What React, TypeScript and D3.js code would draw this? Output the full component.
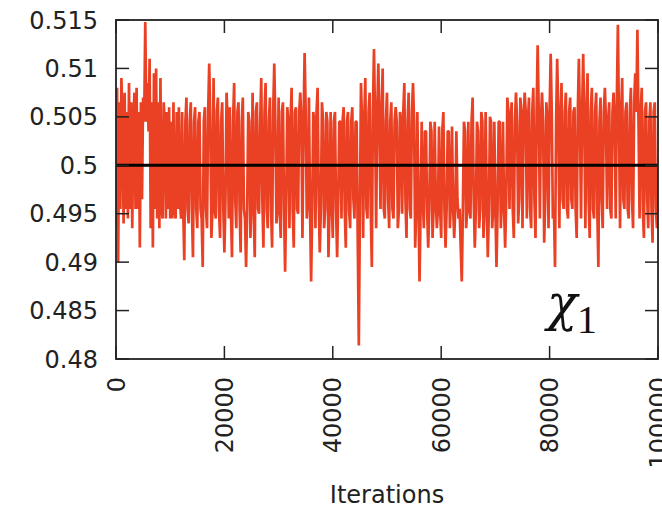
import React from "react";
import * as d3 from "d3";

// ---- data ----
const yTicks = [0.48, 0.485, 0.49, 0.495, 0.5, 0.505, 0.51, 0.515];
const yTickLabels = ["0.48", "0.485", "0.49", "0.495", "0.5", "0.505", "0.51", "0.515"];
const xTicks = [0, 20000, 40000, 60000, 80000, 100000];
const xTickLabels = ["0", "20000", "40000", "60000", "80000", "100000"];
const xLabel = "Iterations";
const trueValue = 0.5;
const iterStep = 200;

// sampled chain for chi_1 (one value every 200 iterations)
const chi1Trace = [
  0.4935, 0.508, 0.490, 0.5065, 0.4955, 0.509, 0.5045, 0.494, 0.5075, 0.4955, 0.5055, 0.4945, 0.5085, 0.4955, 0.5065, 0.4935, 0.5045, 0.5075, 0.4955, 0.508,
  0.4955, 0.5055, 0.4915, 0.5065, 0.4965, 0.507, 0.5045, 0.5148, 0.5045, 0.5085, 0.5035, 0.511, 0.4935, 0.5065, 0.4915, 0.5095, 0.4955, 0.510, 0.4945, 0.5065,
  0.4935, 0.509, 0.4955, 0.4945, 0.5065, 0.5045, 0.4945, 0.5055, 0.4955, 0.506, 0.4945, 0.5045, 0.4945, 0.5065, 0.4955, 0.4945, 0.5055, 0.4955, 0.506, 0.4965,
  0.4945, 0.5055, 0.4955, 0.4902, 0.5045, 0.507, 0.4955, 0.494, 0.5045, 0.5065, 0.4955, 0.4905, 0.5045, 0.506, 0.4955, 0.4935, 0.5045, 0.5055, 0.4955, 0.4945,
  0.4895, 0.5045, 0.506, 0.4955, 0.4935, 0.5055, 0.5105, 0.5045, 0.4925, 0.4955, 0.509, 0.4955, 0.4945, 0.5055, 0.507, 0.4955, 0.4925, 0.5045, 0.5065, 0.4955,
  0.491, 0.4965, 0.5075, 0.5045, 0.4945, 0.506, 0.4955, 0.4905, 0.5045, 0.5085, 0.4965, 0.4935, 0.5055, 0.5065, 0.4955, 0.491, 0.5045, 0.507, 0.4955, 0.4945,
  0.4895, 0.4955, 0.5055, 0.5045, 0.4925, 0.4965, 0.5075, 0.4955, 0.4905, 0.5055, 0.5065, 0.4955, 0.495, 0.5045, 0.509, 0.4965, 0.4915, 0.5055, 0.5085, 0.4955,
  0.4935, 0.5045, 0.507, 0.4955, 0.4915, 0.5055, 0.5105, 0.5045, 0.494, 0.4955, 0.507, 0.4955, 0.4925, 0.5055, 0.5065, 0.4955, 0.489, 0.4965, 0.506, 0.5045,
  0.4935, 0.5045, 0.508, 0.4955, 0.4915, 0.5055, 0.506, 0.4955, 0.495, 0.5055, 0.5075, 0.5045, 0.4925, 0.5045, 0.5116, 0.5055, 0.4945, 0.4965, 0.507, 0.4955,
  0.488, 0.4955, 0.5055, 0.5045, 0.4935, 0.5055, 0.508, 0.4965, 0.491, 0.4955, 0.5065, 0.5045, 0.4935, 0.4955, 0.5055, 0.5045, 0.4905, 0.4955, 0.5055, 0.4965,
  0.4925, 0.5045, 0.5055, 0.4955, 0.4905, 0.4965, 0.5045, 0.5045, 0.4945, 0.5045, 0.506, 0.4955, 0.4915, 0.5045, 0.5055, 0.4955, 0.4935, 0.5045, 0.506, 0.4965,
  0.4945, 0.5045, 0.5045, 0.4925, 0.4814, 0.4955, 0.5085, 0.5045, 0.4925, 0.5045, 0.509, 0.4955, 0.4945, 0.5055, 0.5075, 0.4955, 0.4895, 0.5055, 0.512, 0.5045,
  0.4935, 0.5055, 0.5105, 0.5045, 0.4955, 0.5055, 0.510, 0.4955, 0.4945, 0.5045, 0.5075, 0.4965, 0.4935, 0.5045, 0.5065, 0.4955, 0.4945, 0.5045, 0.506, 0.5045,
  0.4935, 0.4955, 0.5055, 0.5045, 0.495, 0.5055, 0.5085, 0.4965, 0.4925, 0.5045, 0.5075, 0.4955, 0.4945, 0.5055, 0.5085, 0.5045, 0.4915, 0.4955, 0.5055, 0.4965,
  0.488, 0.4955, 0.5045, 0.4965, 0.4935, 0.5035, 0.5035, 0.4955, 0.4915, 0.4955, 0.5045, 0.5035, 0.4925, 0.4955, 0.5045, 0.4965, 0.4935, 0.4955, 0.504, 0.4955,
  0.4925, 0.5035, 0.5055, 0.4955, 0.4915, 0.4955, 0.5035, 0.5035, 0.4935, 0.4965, 0.504, 0.4955, 0.4925, 0.4955, 0.5035, 0.4965, 0.4945, 0.4955, 0.4915, 0.488,
  0.4955, 0.5045, 0.5035, 0.4935, 0.4955, 0.5045, 0.4955, 0.4945, 0.5045, 0.507, 0.4965, 0.4915, 0.4955, 0.5045, 0.5035, 0.4935, 0.4955, 0.5055, 0.5045, 0.4925,
  0.4955, 0.5055, 0.4965, 0.4905, 0.4955, 0.505, 0.5045, 0.4935, 0.4955, 0.5045, 0.4955, 0.4895, 0.4955, 0.5045, 0.5045, 0.4935, 0.4965, 0.5045, 0.4955, 0.4915,
  0.4965, 0.507, 0.5055, 0.4955, 0.5045, 0.5065, 0.4955, 0.4925, 0.5045, 0.5075, 0.5045, 0.494, 0.4965, 0.507, 0.5055, 0.4935, 0.5045, 0.5075, 0.5055, 0.4945,
  0.5045, 0.507, 0.4955, 0.4935, 0.5055, 0.508, 0.4965, 0.4925, 0.5055, 0.5124, 0.5055, 0.4945, 0.5045, 0.5075, 0.5045, 0.492, 0.4965, 0.5065, 0.5045, 0.4935,
  0.5055, 0.5115, 0.5055, 0.4945, 0.4955, 0.4895, 0.5045, 0.511, 0.5055, 0.4935, 0.5045, 0.5085, 0.4965, 0.4955, 0.5055, 0.5075, 0.4955, 0.4945, 0.5055, 0.507,
  0.4965, 0.4955, 0.5055, 0.506, 0.4955, 0.4925, 0.5055, 0.511, 0.5045, 0.4945, 0.5055, 0.5115, 0.5045, 0.4935, 0.5055, 0.5095, 0.4965, 0.4925, 0.5055, 0.508,
  0.4955, 0.4945, 0.5055, 0.5075, 0.4955, 0.4895, 0.5045, 0.507, 0.4965, 0.4935, 0.5055, 0.508, 0.5045, 0.4955, 0.5045, 0.5065, 0.4955, 0.4945, 0.5055, 0.5075,
  0.5045, 0.4945, 0.5065, 0.5145, 0.5045, 0.4935, 0.5055, 0.509, 0.4965, 0.4955, 0.5055, 0.5065, 0.4955, 0.4945, 0.5055, 0.508, 0.4965, 0.4935, 0.5065, 0.5095,
  0.5055, 0.514, 0.5045, 0.4945, 0.5055, 0.508, 0.4955, 0.4925, 0.5055, 0.5065, 0.4965, 0.4935, 0.5045, 0.5065, 0.4955, 0.492, 0.5055, 0.5065, 0.4955, 0.4935,
  0.500,
];

const W = 662;
const H = 511;
const margin = { left: 116, right: 4, top: 20, bottom: 152 };

export default function App() {
  const x = d3
    .scaleLinear()
    .domain([0, 100000])
    .range([margin.left, W - margin.right]);
  const y = d3
    .scaleLinear()
    .domain([0.48, 0.515])
    .range([H - margin.bottom, margin.top]);

  const line = d3
    .line<number>()
    .x((_, i) => x(i * iterStep))
    .y((d) => y(d));

  const x0 = x.range()[0];
  const x1 = x.range()[1];
  const yb = y.range()[0];
  const yt = y.range()[1];
  const tickLen = 13;
  const font = "'DejaVu Sans', sans-serif";

  return (
    <svg
      width={W}
      height={H}
      style={{ position: "absolute", left: 0, top: 0, background: "#fff" }}
    >
      <defs>
        <clipPath id="plotClip">
          <rect x={x0} y={yt} width={x1 - x0} height={yb - yt} />
        </clipPath>
      </defs>
      <g clipPath="url(#plotClip)">
        <path
          d={line(chi1Trace) || ""}
          fill="none"
          stroke="#ea4124"
          strokeWidth={2.7}
          strokeLinejoin="bevel"
        />
        <line
          x1={x0}
          x2={x1}
          y1={y(trueValue)}
          y2={y(trueValue)}
          stroke="#000"
          strokeWidth={3}
        />
      </g>

      {/* ticks on all four sides */}
      {yTicks.map((t, i) => (
        <g key={"y" + i}>
          <line x1={x0} x2={x0 + tickLen} y1={y(t)} y2={y(t)} stroke="#222" strokeWidth={1.5} />
          <line x1={x1} x2={x1 - tickLen} y1={y(t)} y2={y(t)} stroke="#222" strokeWidth={1.5} />
          <text
            x={x0 - 18}
            y={y(t)}
            dy="0.36em"
            textAnchor="end"
            fontFamily={font}
            fontSize={24}
            fill="#222"
          >
            {yTickLabels[i]}
          </text>
        </g>
      ))}
      {xTicks.map((t, i) => (
        <g key={"x" + i}>
          <line x1={x(t)} x2={x(t)} y1={yb} y2={yb - tickLen} stroke="#222" strokeWidth={1.5} />
          <line x1={x(t)} x2={x(t)} y1={yt} y2={yt + tickLen} stroke="#222" strokeWidth={1.5} />
          <text
            transform={`translate(${x(t)},${yb + 18}) rotate(-90)`}
            dy="0.36em"
            textAnchor="end"
            fontFamily={font}
            fontSize={24}
            fill="#222"
          >
            {xTickLabels[i]}
          </text>
        </g>
      ))}

      <rect
        x={x0}
        y={yt}
        width={x1 - x0}
        height={yb - yt}
        fill="none"
        stroke="#222"
        strokeWidth={1.8}
      />

      <text
        x={(x0 + x1) / 2}
        y={503}
        textAnchor="middle"
        fontFamily={font}
        fontSize={24}
        fill="#222"
      >
        {xLabel}
      </text>

      <text x={547} y={320} fontFamily="'DejaVu Serif', serif" fontStyle="italic" fontSize={50} fill="#111">
        χ
      </text>
      <text x={577} y={333} fontFamily="'Liberation Serif', serif" fontSize={40} fill="#111">
        1
      </text>
    </svg>
  );
}
